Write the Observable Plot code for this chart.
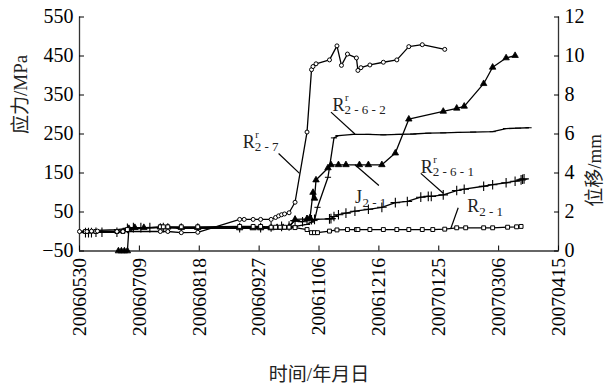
<!DOCTYPE html>
<html><head><meta charset="utf-8">
<script src="https://cdn.jsdelivr.net/npm/d3@7"></script>
<script src="https://cdn.jsdelivr.net/npm/@observablehq/plot@0.6"></script>
<style>
body{margin:0;background:#fff}
svg text{font-family:'Liberation Serif','Noto Sans CJK SC',serif !important}
</style>
</head><body><div id="chart"></div>
<script>
// ---- tick labels ----
const xTickLabels = ["20060530","20060709","20060818","20060927","20061106","20061216","20070125","20070306","20070415"];
const yTicks = [-50, 50, 150, 250, 350, 450, 550];
const yTickLabels = ["\u221250","50","150","250","350","450","550"];
const rightTickLabels = ["0","2","4","6","8","10","12"];

// ---- series: R^r_{2-7} (stress, MPa) ----
const r27Dates = ["2006-05-30","2006-06-04","2006-06-07","2006-06-11","2006-06-24","2006-06-28","2006-07-23","2006-07-28","2006-08-06","2006-08-17","2006-09-14","2006-09-17","2006-09-23","2006-09-28","2006-10-05","2006-10-08","2006-10-10","2006-10-12","2006-10-14","2006-10-17","2006-10-21","2006-10-29","2006-11-01","2006-11-02","2006-11-04","2006-11-13","2006-11-18","2006-11-21","2006-11-25","2006-12-01","2006-12-02","2006-12-04","2006-12-10","2006-12-19","2006-12-28","2007-01-05","2007-01-14","2007-01-29"];
const r27Values = [0,0,1,1,0,0,0,0,-3,-2,31,31,31,31,31,36,40,43,45,48,75,255,415,423,430,440,476,426,455,445,413,420,427,434,440,474,479,467];

// ---- series: R_{2-1} (stress, MPa) ----
const r21Dates = ["2006-06-03","2006-06-10","2006-06-24","2006-06-28","2006-07-01","2006-07-23","2006-07-25","2006-07-28","2006-08-06","2006-08-17","2006-09-14","2006-09-23","2006-09-28","2006-10-05","2006-10-08","2006-10-11","2006-10-14","2006-10-17","2006-10-21","2006-10-29","2006-11-01","2006-11-03","2006-11-05","2006-11-13","2006-11-18","2006-11-25","2006-12-01","2006-12-02","2006-12-10","2006-12-19","2006-12-28","2007-01-05","2007-01-14","2007-01-21","2007-01-29","2007-02-06","2007-02-12","2007-02-24","2007-03-02","2007-03-12","2007-03-18","2007-03-21"];
const r21Values = [0,0,0,0,5,12,12,12,12,12,13,13,13,11,11,11,11,11,10,5,-3,-3,-3,1,4,5,5,5,5,5,5,5,5,5,6,9.5,9.5,9.5,9.5,11,12,13];

// ---- series: J_{2-1} (displacement, mm, right axis) ----
const j21Dates = ["2006-06-25","2006-06-27","2006-06-29","2006-07-01","2006-07-02","2006-07-06","2006-07-12","2006-07-23","2006-07-28","2006-08-06","2006-08-17","2006-09-14","2006-09-23","2006-09-28","2006-10-05","2006-10-09","2006-10-13","2006-10-17","2006-10-21","2006-10-29","2006-10-31","2006-11-02","2006-11-03","2006-11-04","2006-11-12","2006-11-14","2006-11-19","2006-11-24","2006-12-03","2006-12-09","2006-12-18","2006-12-27","2007-01-05","2007-01-28","2007-02-06","2007-02-11","2007-02-24","2007-03-02","2007-03-11","2007-03-17"];
const j21Values = [0,0,0,0,1.15,1.2,1.2,1.22,1.22,1.2,1.2,1.18,1.18,1.18,1.18,1.2,1.2,1.22,1.62,1.65,1.7,3.0,2.7,3.64,4.26,4.42,4.42,4.42,4.42,4.42,4.42,5.02,6.76,7.16,7.32,7.42,8.58,9.42,9.9,10.02];

// ---- series: R^r_{2-6-2} (stress, MPa) ----
const r262Dates = ["2006-06-03","2006-06-10","2006-06-24","2006-07-01","2006-07-06","2006-07-12","2006-07-23","2006-08-06","2006-08-17","2006-09-14","2006-09-28","2006-10-05","2006-10-10","2006-10-15","2006-10-21","2006-10-29","2006-11-01","2006-11-03","2006-11-05","2006-11-12","2006-11-16","2006-11-19","2006-11-29","2006-12-09","2006-12-19","2006-12-29","2007-01-08","2007-01-18","2007-01-28","2007-02-07","2007-02-17","2007-03-02","2007-03-11","2007-03-19","2007-03-26"];
const r262Values = [2,3,5,8,10,10,10,10,9,8,8,9,10,11,13,18,24,28,62,139,240,246,249,249,248,249,250,252,253,254,255,256,264,265,266];

// ---- series: R^r_{2-6-1} (stress, MPa) ----
const r261Dates = ["2006-06-03","2006-06-05","2006-06-07","2006-06-10","2006-06-14","2006-06-24","2006-07-01","2006-07-05","2006-07-10","2006-07-16","2006-07-25","2006-08-06","2006-08-17","2006-09-14","2006-09-28","2006-10-05","2006-10-12","2006-10-17","2006-10-21","2006-10-26","2006-10-29","2006-11-01","2006-11-03","2006-11-13","2006-11-14","2006-11-16","2006-11-19","2006-11-24","2006-11-30","2006-12-09","2006-12-18","2006-12-27","2007-01-04","2007-01-13","2007-01-18","2007-01-20","2007-01-28","2007-02-06","2007-02-11","2007-02-24","2007-03-02","2007-03-11","2007-03-17","2007-03-21","2007-03-22","2007-03-23"];
const r261Values = [-3,-3,-3,-2,-2,-2,8,10,10,10,10,8,8,10,10,12,13,14,28,25,30,30,31,32.5,33,38.5,43,47,52,57,62,74,77,88,90,90,94,105,108.5,116,120,125,129,132.5,134,135];

// ---- labels and leader lines ----
const labelMain = ["R","R","J","R","R"];
const labelSub = ["2 - 7","2 - 6 - 2","2 - 1","2 - 6 - 1","2 - 1"];
const labelSup = ["r","r","","r",""];
const labelDates = ["2006-09-16","2006-11-15","2006-11-30","2007-01-13","2007-02-13"];
const labelValues = [215,310,72,151,49];
const leaderFromDates = ["2006-10-10","2006-11-14","2006-11-30","2007-01-13","2007-02-07"];
const leaderFromValues = [200,306,171,149,61];
const leaderToDates = ["2006-10-24","2006-11-30","2006-12-16","2007-01-28","2007-02-02"];
const leaderToValues = [149,250,118,98,7];

const pDate = d3.utcParse("%Y-%m-%d");
const pTick = d3.utcParse("%Y%m%d");
const xTicks = xTickLabels.map(pTick);
const series = (dates, vals) => dates.map((d, i) => ({date: pDate(d), v: vals[i]}));
const r27 = series(r27Dates, r27Values);
const r21 = series(r21Dates, r21Values);
const j21 = series(j21Dates, j21Values).map(d => ({date: d.date, v: d.v * 50 - 50})); // mm on right axis (0 mm = -50 MPa, 12 mm = 550 MPa)
const r262 = series(r262Dates, r262Values);
const r261 = series(r261Dates, r261Values);
const labels = labelMain.map((m, i) => ({main: m, sub: labelSub[i], sup: labelSup[i], date: pDate(labelDates[i]), v: labelValues[i]}));
const leaders = leaderFromDates.map((d, i) => ({x1: pDate(d), y1: leaderFromValues[i], x2: pDate(leaderToDates[i]), y2: leaderToValues[i]}));

const dash = {draw(ctx, size) { const w = Math.sqrt(size) * 0.7; ctx.moveTo(-w, 0); ctx.lineTo(w, 0); }};
const lineOpts = {x: "date", y: "v", stroke: "#000", strokeWidth: 1.3};
const FONT = "'Liberation Serif', 'Noto Sans CJK SC', serif";
const LBL = "#222";

const chart = Plot.plot({
  width: 614, height: 391,
  marginLeft: 79, marginRight: 56, marginTop: 16.5, marginBottom: 140.5,
  style: {fontFamily: FONT, fontSize: "19px", background: "#fff", color: "#000"},
  x: {type: "utc", domain: [xTicks[0], xTicks[xTicks.length - 1]]},
  y: {domain: [-50, 550]},
  marks: [
    Plot.ruleX([xTicks[0]], {stroke: "#333", strokeWidth: 1.3}),
    Plot.ruleX([xTicks[xTicks.length - 1]], {stroke: "#333", strokeWidth: 1.3}),
    Plot.ruleY([-50], {stroke: "#333", strokeWidth: 1.3}),
    Plot.axisX({ticks: xTicks, tickFormat: d3.utcFormat("%Y%m%d"), tickRotate: -90, tickSize: -5, tickPadding: 12, label: null, fontSize: 19.5, fontFamily: FONT}),
    Plot.axisY({anchor: "left", ticks: yTicks, tickFormat: d => yTickLabels[yTicks.indexOf(d)], tickSize: -5, tickPadding: 11, label: null, fontSize: 20, fontFamily: FONT}),
    Plot.axisY({anchor: "right", ticks: yTicks, tickFormat: d => rightTickLabels[yTicks.indexOf(d)], tickSize: -5, tickPadding: 11, label: null, fontSize: 20, fontFamily: FONT}),
    Plot.text(["应力/MPa"], {frameAnchor: "left", dx: -59, rotate: -90, fontSize: 19, fontFamily: FONT, fill: LBL}),
    Plot.text(["位移/mm"], {frameAnchor: "right", dx: 36, rotate: -90, fontSize: 19, fontFamily: FONT, fill: LBL}),
    Plot.text(["时间/年月日"], {frameAnchor: "bottom", dy: 130, fontSize: 19, fontFamily: FONT, fill: LBL}),
    Plot.line(r21, lineOpts),
    Plot.line(r262, lineOpts),
    Plot.line(r261, lineOpts),
    Plot.line(j21, lineOpts),
    Plot.line(r27, lineOpts),
    Plot.dot(r262, {x: "date", y: "v", symbol: dash, r: 2.5, stroke: "#000", strokeWidth: 1}),
    Plot.dot(r261, {x: "date", y: "v", symbol: "plus", r: 3.2, stroke: "#000", strokeWidth: 1.1}),
    Plot.dot(j21, {x: "date", y: "v", symbol: "triangle", r: 2.4, fill: "#000", stroke: "#000", strokeWidth: 0.8}),
    Plot.dot(r21, {x: "date", y: "v", symbol: "square", r: 2.2, fill: "#fff", stroke: "#000", strokeWidth: 1}),
    Plot.dot(r27, {x: "date", y: "v", symbol: "circle", r: 2, fill: "#fff", stroke: "#000", strokeWidth: 1}),
    Plot.link(leaders, {x1: "x1", y1: "y1", x2: "x2", y2: "y2", stroke: "#000", strokeWidth: 1.2}),
    Plot.text(labels, {x: "date", y: "v", text: "main", textAnchor: "start", lineAnchor: "bottom", fontSize: 18, fontFamily: FONT, fill: LBL}),
    Plot.text(labels.filter(d => d.main === "R"), {x: "date", y: "v", text: "sub", textAnchor: "start", lineAnchor: "bottom", dx: 12, dy: 3.5, fontSize: 13, fontFamily: FONT, fill: LBL}),
    Plot.text(labels.filter(d => d.main === "J"), {x: "date", y: "v", text: "sub", textAnchor: "start", lineAnchor: "bottom", dx: 7.5, dy: 3.5, fontSize: 13, fontFamily: FONT, fill: LBL}),
    Plot.text(labels.filter(d => d.sup), {x: "date", y: "v", text: "sup", textAnchor: "start", lineAnchor: "bottom", dx: 12.5, dy: -10, fontSize: 10.5, fontFamily: FONT, fill: LBL})
  ]
});
document.getElementById("chart").appendChild(chart);
</script>
</body></html>
